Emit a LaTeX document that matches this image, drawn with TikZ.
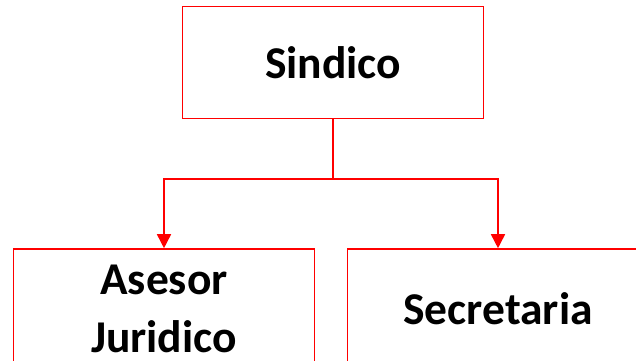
\documentclass[tikz,border=0pt]{standalone}
\usepackage{fontspec}
\setmainfont{Carlito}
\usetikzlibrary{arrows.meta}
\definecolor{boxred}{RGB}{255,0,0}
\begin{document}
\begin{tikzpicture}[x=1pt,y=1pt,
  orgbox/.style={draw=boxred,line width=1.6pt,minimum width=301pt,
    align=center,inner sep=0pt,font=\bfseries\fontsize{45.5}{58}\selectfont,text=black},
  link/.style={draw=boxred,line width=1.6pt},
  tip/.style={-{Triangle[length=14pt,width=14pt]}}]
\useasboundingbox (0,0) rectangle (636,360);
\node[orgbox,minimum height=112pt] (sindico) at (333,297.5) {Sindico};
\node[orgbox,minimum height=120pt] (asesor) at (164,51) {Asesor\\Juridico};
\node[orgbox,minimum height=120pt] (secre) at (498,51) {Secretaria};
\coordinate (split) at (333,181);
\draw[link] (sindico.south) -- (split);
\draw[link,tip] (split) -| (asesor.north);
\draw[link,tip] (split) -| (secre.north);
\end{tikzpicture}
\end{document}
